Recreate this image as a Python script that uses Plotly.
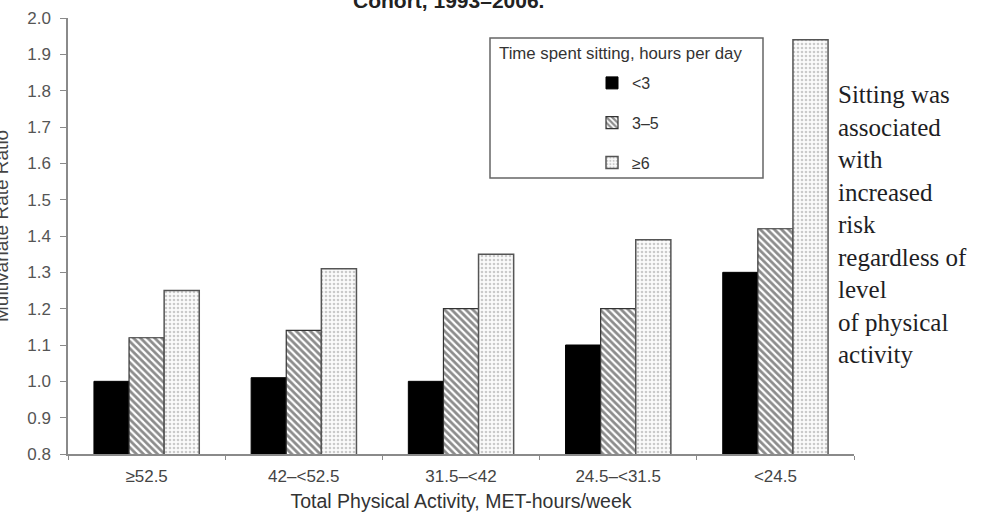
import plotly.graph_objects as go

categories = ["≥52.5", "42–<52.5", "31.5–<42", "24.5–<31.5", "<24.5"]
series_names = ["<3", "3–5", "≥6"]
sit_lt3 = [1.00, 1.01, 1.00, 1.10, 1.30]
sit_3to5 = [1.12, 1.14, 1.20, 1.20, 1.42]
sit_ge6 = [1.25, 1.31, 1.35, 1.39, 1.94]
y_ticks = [0.8, 0.9, 1.0, 1.1, 1.2, 1.3, 1.4, 1.5, 1.6, 1.7, 1.8, 1.9, 2.0]

SANS = "Liberation Sans, Arial, sans-serif"
SERIF = "Liberation Serif, Times New Roman, serif"

W, H = 983, 520
ML, MR, MT, MB = 68, 129, 18, 66
PW, PH = W - ML - MR, H - MT - MB


def px_x(x):
    return (x - ML) / PW


def px_y(y):
    return (H - MB - y) / PH


fig = go.Figure()
fig.add_trace(go.Bar(
    x=categories, y=sit_lt3, name=series_names[0], legendgroup="a",
    marker=dict(color="black", line=dict(color="black", width=1)),
))
fig.add_trace(go.Bar(
    x=categories, y=sit_3to5, name=series_names[1], legendgroup="b",
    marker=dict(color="white", line=dict(color="#333", width=1.2),
                pattern=dict(shape="\\", fgcolor="#1a1a1a", bgcolor="white",
                             size=5, solidity=0.55)),
))
fig.add_trace(go.Bar(
    x=categories, y=sit_ge6, name=series_names[2], legendgroup="c",
    marker=dict(color="white", line=dict(color="#555", width=1.5),
                pattern=dict(shape=".", fgcolor="#9a9a9a", bgcolor="#fbfbfb",
                             size=4, solidity=0.35)),
))

fig.update_layout(
    width=W, height=H,
    margin=dict(l=ML, r=MR, t=MT, b=MB, autoexpand=False),
    paper_bgcolor="white", plot_bgcolor="white",
    barmode="group", bargap=0.33, bargroupgap=0,
    font=dict(family=SANS, color="#444", size=16),
    showlegend=True,
    legend=dict(
        x=px_x(493), y=px_y(66), xanchor="left", yanchor="top",
        bgcolor="rgba(0,0,0,0)", borderwidth=0,
        font=dict(size=16, color="#333", family=SANS),
        traceorder="grouped", tracegroupgap=16, indentation=99,
    ),
    shapes=[dict(type="rect", xref="paper", yref="paper",
                 x0=px_x(490), x1=px_x(763), y0=px_y(178), y1=px_y(38),
                 line=dict(color="#666", width=1.5), fillcolor="rgba(0,0,0,0)")],
)

fig.update_xaxes(
    type="category", showline=True, linecolor="#8a8a8a", linewidth=1.5,
    ticks="outside", tickson="boundaries", ticklen=4, tickcolor="#8a8a8a",
    ticklabelstandoff=6,
    tickfont=dict(size=17, color="#444"), showgrid=False,
    title=dict(text="Total Physical Activity, MET-hours/week",
               font=dict(size=19.5, color="#333"), standoff=9),
)
fig.update_yaxes(
    range=[0.8, 2.0], tickvals=y_ticks, tickformat=".1f",
    showline=True, linecolor="#8a8a8a", linewidth=1.5,
    ticks="outside", ticklen=6, tickcolor="#8a8a8a", ticklabelstandoff=6,
    tickfont=dict(size=17, color="#555"), showgrid=False, zeroline=False,
)

fig.add_annotation(
    xref="paper", yref="paper", x=px_x(497), y=px_y(53),
    text="Time spent sitting, hours per day", showarrow=False,
    xanchor="left", yanchor="middle",
    font=dict(size=16.8, color="#333", family=SANS),
)
fig.add_annotation(
    xref="paper", yref="paper", x=px_x(1), y=px_y(226),
    text="Multivariate Rate Ratio", textangle=-90, showarrow=False,
    xanchor="center", yanchor="middle",
    font=dict(size=19, color="#444", family=SANS),
)
fig.add_annotation(
    xref="paper", yref="paper", x=px_x(448), y=px_y(14),
    text="<b>Cohort, 1993–2006.</b>", showarrow=False,
    xanchor="center", yanchor="bottom",
    font=dict(size=21, color="#222", family=SANS),
)
fig.add_annotation(
    xref="paper", yref="paper", x=px_x(836), y=px_y(79),
    text="Sitting was<br>associated<br>with<br>increased<br>risk<br>regardless of<br>level<br>of physical<br>activity",
    showarrow=False, xanchor="left", yanchor="top", align="left",
    font=dict(size=25, color="#1e1e24", family=SERIF),
)

fig.write_html("out.html", config={"displayModeBar": False},
               post_script="document.body.style.margin='0';")
